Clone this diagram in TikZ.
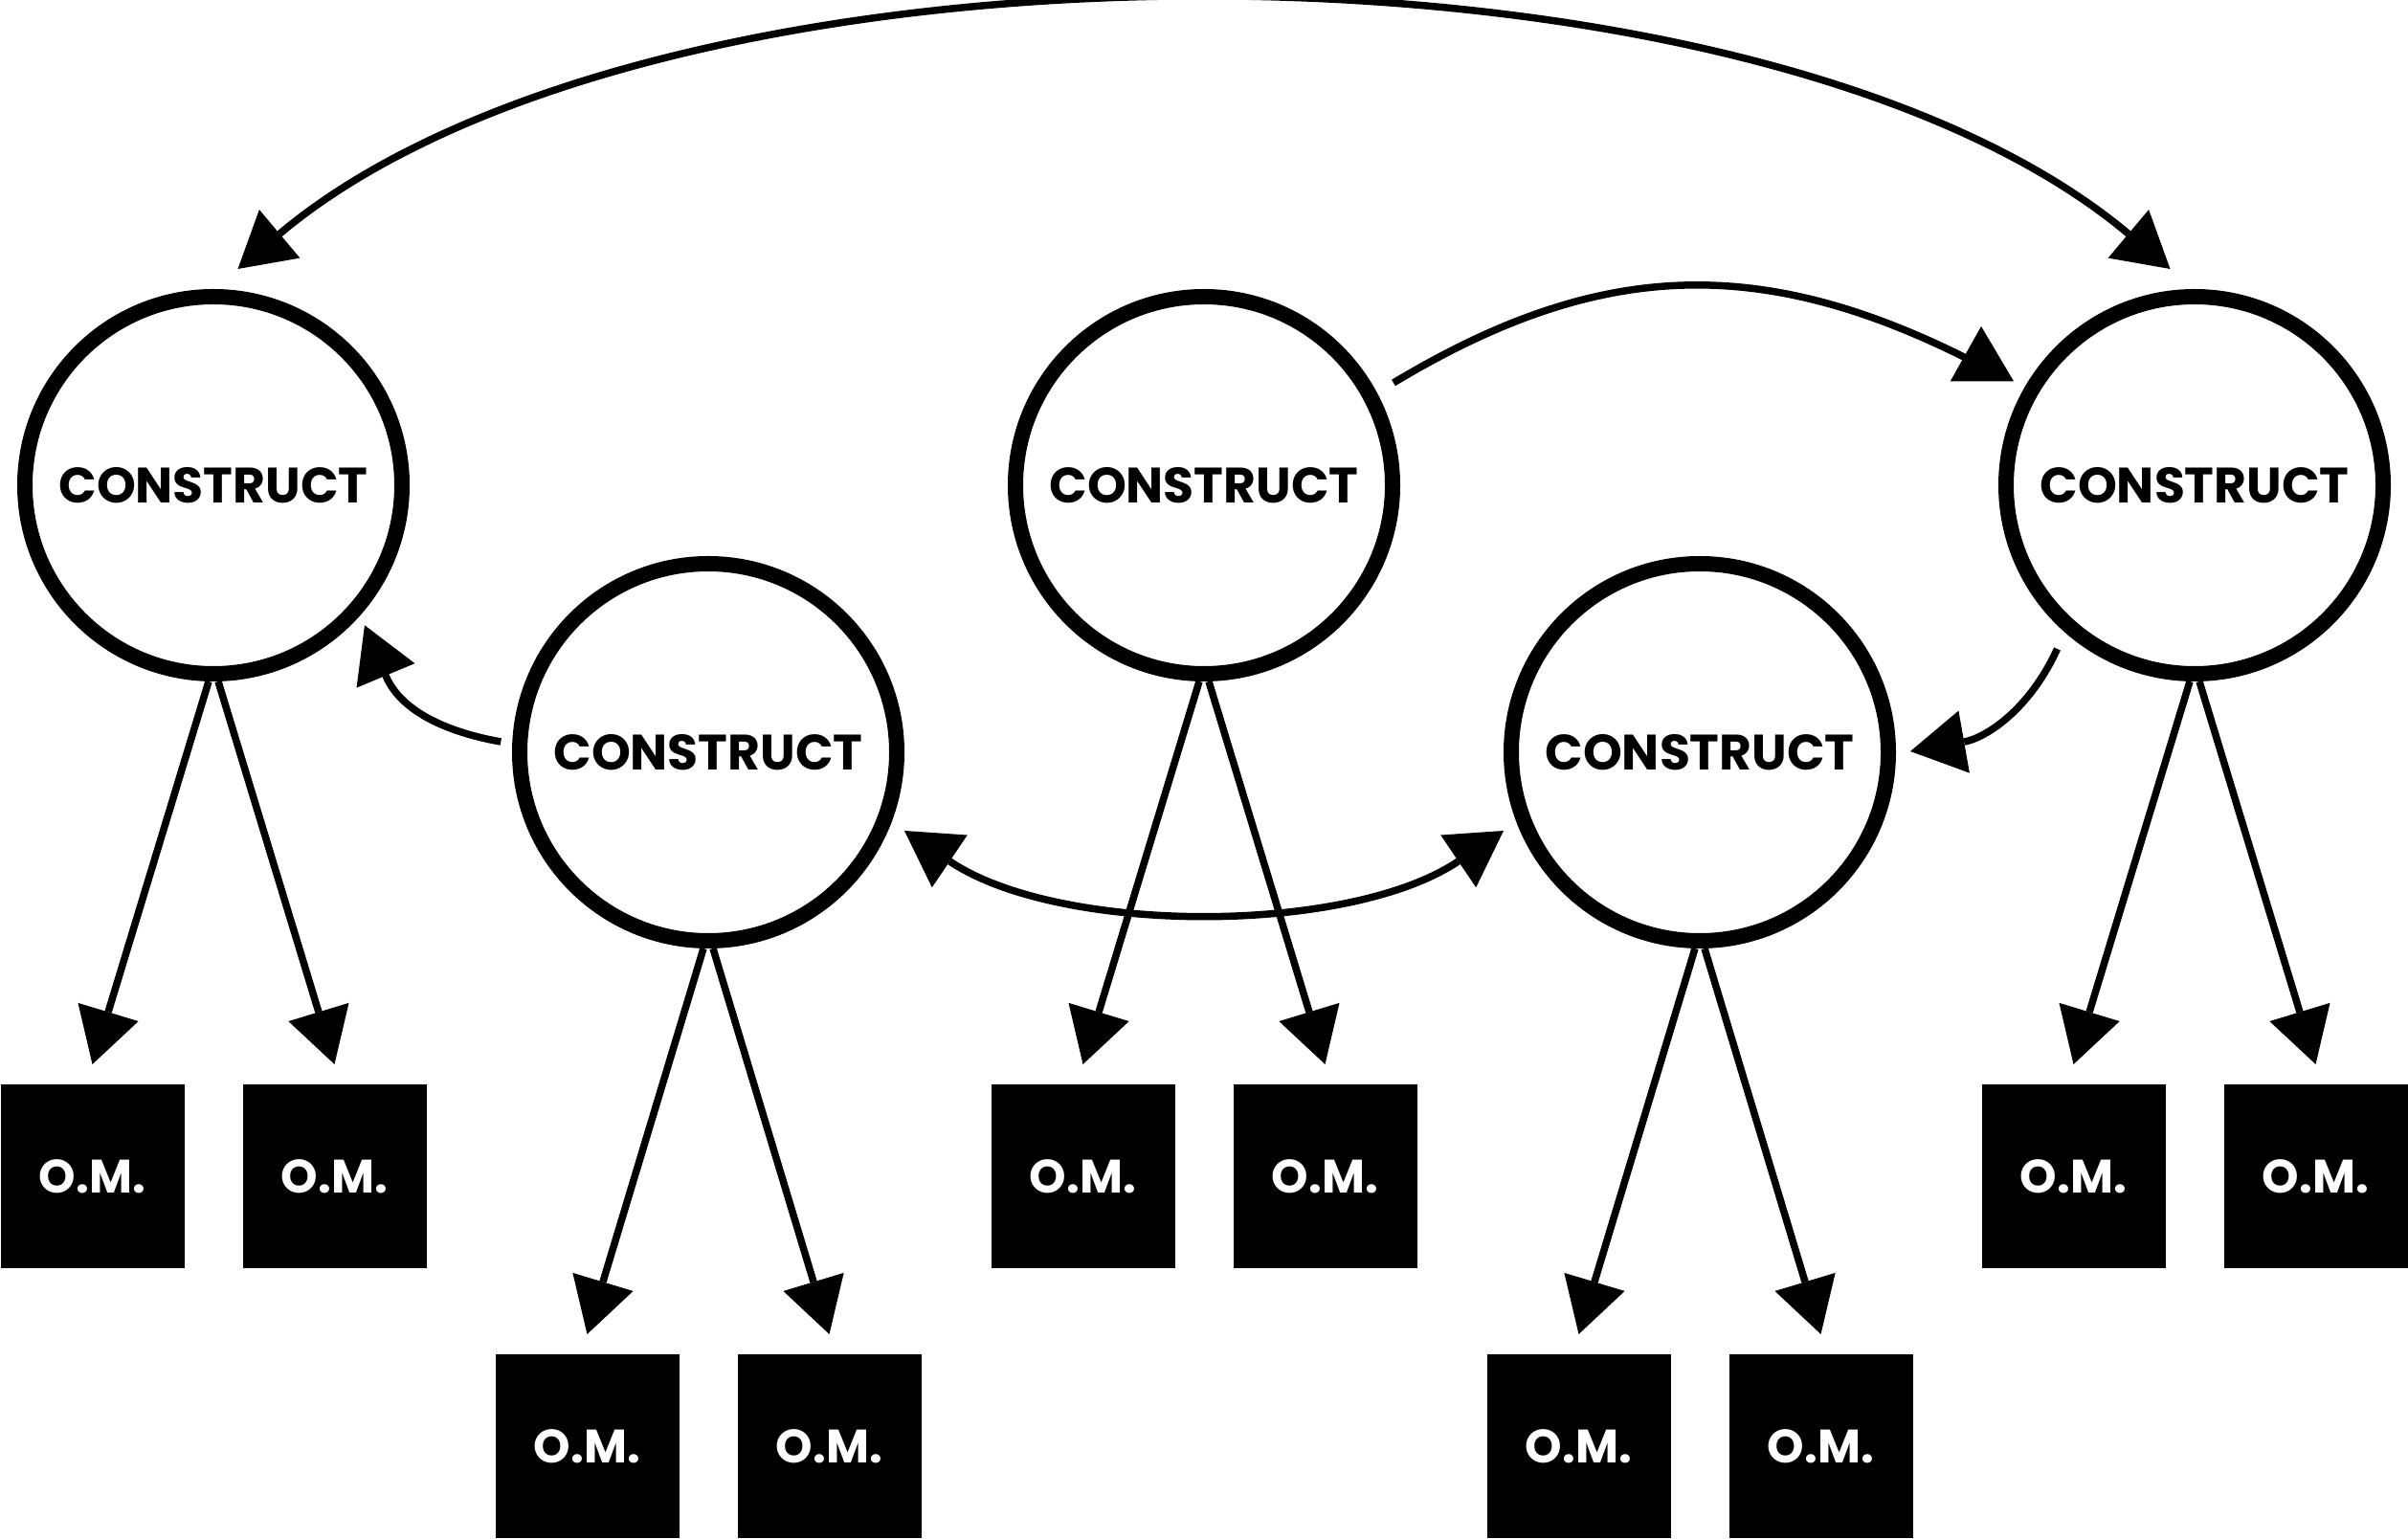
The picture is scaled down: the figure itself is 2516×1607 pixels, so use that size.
\documentclass[tikz,border=0pt]{standalone}
\usepackage{fontspec}
\setmainfont{Poppins}
\usetikzlibrary{arrows.meta,calc}
\begin{document}
\begin{tikzpicture}[x=1pt,y=1pt,
  construct/.style={circle, draw=black, line width=16pt, fill=white, minimum size=394pt, inner sep=0pt, font=\fontsize{52}{52}\selectfont\bfseries},
  om/.style={rectangle, fill=black, minimum size=192pt, inner sep=0pt, outer sep=0pt, text=white, font=\fontsize{49}{49}\selectfont\bfseries},
  conn/.style={line width=7.5pt, draw=black},
  sarrow/.style={-{Triangle[length=57pt,width=66pt,line width=0pt]}},
  darrow/.style={{Triangle[length=57pt,width=66pt,line width=0pt]}-{Triangle[length=57pt,width=66pt,line width=0pt]}}]
\fill[white] (0,0) rectangle (2516,1607);
\useasboundingbox (0,0) rectangle (2516,1607);

% constructs
\node[construct] (C1) at (223,1100) {CONSTRUCT};
\node[construct] (C2) at (740,821) {CONSTRUCT};
\node[construct] (C3) at (1258,1100) {CONSTRUCT};
\node[construct] (C4) at (1776,821) {CONSTRUCT};
\node[construct] (C5) at (2293,1100) {CONSTRUCT};

% observed measures
\node[om] (S1a) at (96.5,378) {O.M.};
\node[om] (S1b) at (349.5,378) {O.M.};
\node[om] (S2a) at (613.5,96) {O.M.};
\node[om] (S2b) at (866.5,96) {O.M.};
\node[om] (S3a) at (1131.5,378) {O.M.};
\node[om] (S3b) at (1384.5,378) {O.M.};
\node[om] (S4a) at (1649.5,96) {O.M.};
\node[om] (S4b) at (1902.5,96) {O.M.};
\node[om] (S5a) at (2166.5,378) {O.M.};
\node[om] (S5b) at (2419.5,378) {O.M.};

% loadings
\draw[conn,sarrow] ([xshift=-5pt]C1.south) -- ([yshift=21pt]S1a.north);
\draw[conn,sarrow] ([xshift=5pt]C1.south) -- ([yshift=21pt]S1b.north);
\draw[conn,sarrow] ([xshift=-5pt]C2.south) -- ([yshift=21pt]S2a.north);
\draw[conn,sarrow] ([xshift=5pt]C2.south) -- ([yshift=21pt]S2b.north);
\draw[conn,sarrow] ([xshift=-5pt]C3.south) -- ([yshift=21pt]S3a.north);
\draw[conn,sarrow] ([xshift=5pt]C3.south) -- ([yshift=21pt]S3b.north);
\draw[conn,sarrow] ([xshift=-5pt]C4.south) -- ([yshift=21pt]S4a.north);
\draw[conn,sarrow] ([xshift=5pt]C4.south) -- ([yshift=21pt]S4b.north);
\draw[conn,sarrow] ([xshift=-5pt]C5.south) -- ([yshift=21pt]S5a.north);
\draw[conn,sarrow] ([xshift=5pt]C5.south) -- ([yshift=21pt]S5b.north);

% top long double arrow C1 <-> C5
\draw[conn,darrow] ($(C1.center)+(25.5,226)$) .. controls +(438,368) and +(-438,368) .. ($(C5.center)+(-25.5,226)$);

% C2 <-> C4
\draw[conn,darrow] ($(C2.center)+(205,-82)$) .. controls +(161.6,-109) and +(-161.6,-109) .. ($(C4.center)+(-205,-82)$);

% C3 -> C5 (head points straight up, as in the original)
\draw[conn] ($(C3.center)+(198,107)$) .. controls +(214.3,128.8) and +(-222.8,113.5) .. ($(C5.center)+(-231,129)$);
\fill[black] ($(C5.center)+(-223,166)$) -- ($(C5.center)+(-255.2,108.7)$) -- ($(C5.center)+(-189,108.7)$) -- cycle;

% C5 -> C4
\draw[conn,sarrow] ($(C5.center)+(-143.5,-171)$) .. controls +(-29,-63.7) and +(78.8,13.9) .. ($(C4.center)+(220,1)$);

% C2 -> C1
\draw[conn,sarrow] ($(C2.center)+(-216.7,11)$) .. controls +(-49.3,8.7) and +(38.9,-93) .. ($(C1.center)+(158,-146.3)$);
\end{tikzpicture}
\end{document}
